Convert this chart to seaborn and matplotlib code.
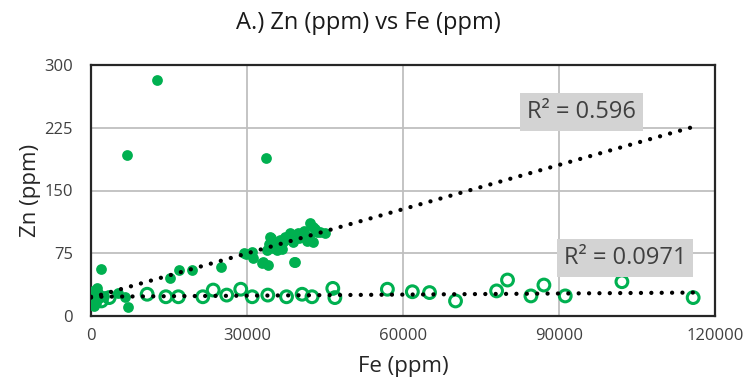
import matplotlib
matplotlib.use("Agg")
import matplotlib.pyplot as plt
import seaborn as sns
import pandas as pd

# ---- data ----
fe_filled = [300, 500, 600, 800, 1000, 1200, 1500, 1900, 2500, 5200, 6500, 7100,
             6900, 12700, 15200, 16900, 19400, 25000, 29400, 29800, 31000, 31200,
             32900, 33000, 34000, 33700, 33800, 34400, 34600, 35000, 35800, 36300,
             37300, 38300, 38800, 39000, 39200, 39800, 40800, 42100, 42700, 42700,
             43400, 44000, 45000, 36000, 37000, 38000, 40000, 41000, 43000, 42000,
             36800, 34300, 41500]
zn_filled = [30, 20, 12, 26, 15, 33, 22, 56, 24, 27, 23, 11,
             193, 282, 45, 55, 55, 58, 75, 74, 76, 69,
             63, 65, 61, 189, 79, 95, 93, 81, 79, 91,
             94, 99, 88, 64, 65, 99, 97, 111, 106, 88,
             100, 100, 99, 85, 88, 92, 93, 102, 104, 95,
             80, 86, 90]

fe_open = [500, 1200, 2000, 3500, 10800, 14400, 16800, 21500, 23500, 26100, 28800,
           31000, 34000, 37600, 40600, 42500, 46500, 46900, 57000, 61800, 65100,
           70100, 78000, 80100, 84600, 87100, 91200, 102100, 115800]
zn_open = [20, 25, 18, 22, 26, 23, 23, 23, 31, 25, 32,
           23, 25, 23, 26, 23, 33, 22, 32, 29, 28,
           18, 30, 43, 24, 37, 24, 41, 22]

trend_x = [0, 115800]
trend_filled_y = [22, 226]
trend_open_y = [23, 28]

x_ticks = [0, 30000, 60000, 90000, 120000]
y_ticks = [0, 75, 150, 225, 300]

title = "A.) Zn (ppm) vs Fe (ppm)"
xlabel = "Fe (ppm)"
ylabel = "Zn (ppm)"
r2_filled = "R² = 0.596"
r2_open = "R² = 0.0971"

GREEN = "#00B050"

sns.set_theme(style="white")
plt.rcParams['font.family'] = ['Open Sans', 'DejaVu Sans']

fig = plt.figure(figsize=(7.49, 3.91), dpi=100)
ax = fig.add_axes([91/749, 75/391, 624/749, 251/391])

df_f = pd.DataFrame({"Fe": fe_filled, "Zn": zn_filled})
df_o = pd.DataFrame({"Fe": fe_open, "Zn": zn_open})

sns.scatterplot(data=df_o, x="Fe", y="Zn", ax=ax, s=72, marker="o",
                facecolor="none", edgecolor=GREEN, linewidth=2.2, zorder=3)
sns.scatterplot(data=df_f, x="Fe", y="Zn", ax=ax, s=60, marker="o",
                color=GREEN, edgecolor=GREEN, linewidth=0, zorder=3)

for ty in (trend_filled_y, trend_open_y):
    ax.plot(trend_x, ty, color="black", linewidth=3.1,
            linestyle=(0, (0.01, 2.4)), dash_capstyle="round", zorder=4)

ax.set_xlim(x_ticks[0], x_ticks[-1])
ax.set_ylim(y_ticks[0], y_ticks[-1])
ax.set_xticks(x_ticks)
ax.set_yticks(y_ticks)
ax.set_xticklabels([str(v) for v in x_ticks])
ax.set_yticklabels([str(v) for v in y_ticks])
ax.tick_params(axis="both", labelsize=12, colors="#404040", length=0)
ax.tick_params(axis="x", pad=9)
ax.tick_params(axis="y", pad=13)
ax.grid(True, color="#BFBFBF", linewidth=1.3)
ax.set_axisbelow(True)
for sp in ax.spines.values():
    sp.set_color("#262626")
    sp.set_linewidth(1.6)
    sp.set_visible(True)

ax.set_xlabel(xlabel, fontsize=16, color="#262626", labelpad=8)
ax.set_ylabel(ylabel, fontsize=16, color="#262626", labelpad=2)
fig.text(368/749, 1 - 23/391, title, ha="center", va="center",
         fontsize=17, color="#1a1a1a")

box = dict(boxstyle="square,pad=0.3", facecolor="#D3D3D3", edgecolor="none")
ax.text(94400, 244, r2_filled, ha="center", va="center", fontsize=17,
        color="#404040", bbox=box, zorder=5)
ax.text(102700, 69, r2_open, ha="center", va="center", fontsize=17,
        color="#404040", bbox=box, zorder=5)

fig.savefig("out.png", dpi=100)
